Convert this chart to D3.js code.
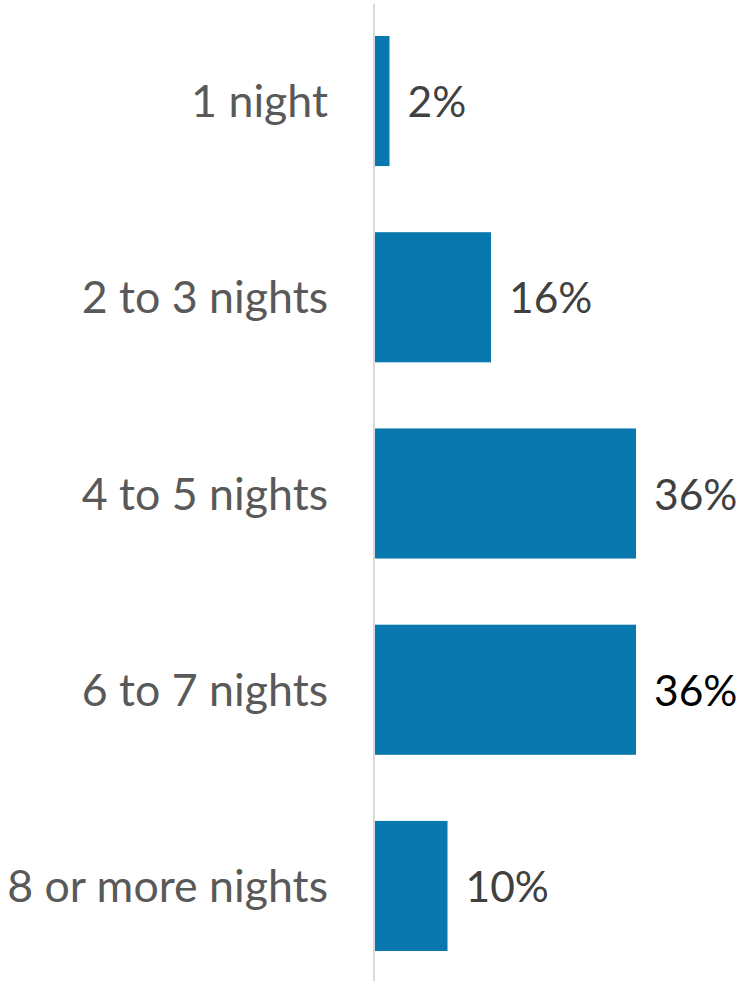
<!DOCTYPE html>
<html>
<head>
<meta charset="utf-8">
<script src="https://cdn.jsdelivr.net/npm/d3@7"></script>
<style>
  html, body { margin: 0; padding: 0; background: #ffffff; }
  svg { display: block; }
</style>
</head>
<body>
<svg id="chart" width="738" height="981"></svg>
<script>
const categories = ["1 night", "2 to 3 nights", "4 to 5 nights", "6 to 7 nights", "8 or more nights"];
const values = [2, 16, 36, 36, 10];
const valueLabels = ["2%", "16%", "36%", "36%", "10%"];
const valueLabelColors = ["#404040", "#404040", "#404040", "#000000", "#404040"];

const svg = d3.select("#chart");
const axisX = 374;
const fontFamily = "Lato, 'Open Sans', sans-serif";

const x = d3.scaleLinear().domain([0, 36]).range([axisX + 1, 636]);
const y = d3.scaleBand().domain(categories).range([3, 984]).paddingInner(0.337).paddingOuter(0.168);

// bars
svg.append("g").selectAll("rect")
  .data(categories)
  .join("rect")
  .attr("x", x(0))
  .attr("y", d => y(d))
  .attr("width", (d, i) => x(values[i]) - x(0))
  .attr("height", y.bandwidth())
  .attr("fill", "#0878AE");

// axis line
svg.append("line")
  .attr("x1", axisX).attr("x2", axisX)
  .attr("y1", 4).attr("y2", 981)
  .attr("stroke", "#d9d9d9").attr("stroke-width", 2);

// category labels
svg.append("g").selectAll("text")
  .data(categories)
  .join("text")
  .attr("x", 328)
  .attr("y", d => y(d) + y.bandwidth() / 2 + 16)
  .attr("text-anchor", "end")
  .attr("font-family", fontFamily)
  .attr("font-size", 44.7)
  .attr("fill", "#595959")
  .text(d => d);

// value labels
svg.append("g").selectAll("text")
  .data(categories)
  .join("text")
  .attr("x", (d, i) => x(values[i]) + 18)
  .attr("y", d => y(d) + y.bandwidth() / 2 + 16)
  .attr("font-family", fontFamily)
  .attr("font-size", 42.5)
  .attr("fill", (d, i) => valueLabelColors[i])
  .text((d, i) => valueLabels[i]);
</script>
</body>
</html>
